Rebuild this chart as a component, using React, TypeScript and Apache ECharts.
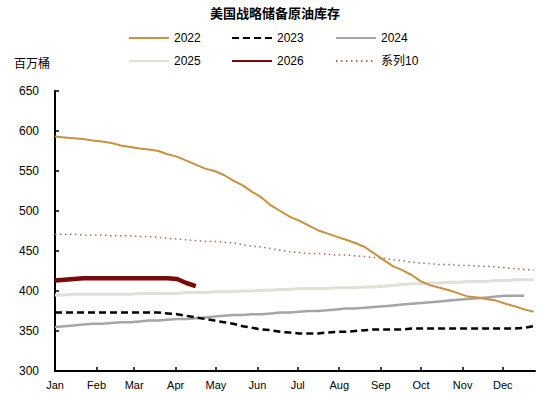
import React, { useEffect, useRef } from "react";
import * as echarts from "echarts";

const days = [0,7,14,21,28,35,42,49,56,63,70,77,84,91,98,105,112,119,126,133,140,147,154,161,168,175,182,189,196,203,210,217,224,231,238,245,252,259,266,273,280,287,294,301,308,315,322,329,336,343,350,357];

const monthStarts = [0,31,59,90,120,151,181,212,243,273,304,334];
const monthNames = ["Jan","Feb","Mar","Apr","May","Jun","Jul","Aug","Sep","Oct","Nov","Dec"];

const s2022 = [593,592,591,590,588,587,585,582,580,578,577,575,571,568,563,558,553,550,545,538,532,524,517,507,500,493,488,482,476,472,468,464,460,455,447,439,431,426,420,412,407,404,401,397,393,392,390,388,384,381,377,374];
const s2023 = [373,373,373,373,373,373,373,373,373,373,373,373,372,371,369,367,365,363,361,359,356,354,352,351,349,348,347,347,347,348,349,349,350,351,352,352,352,352,353,353,353,353,353,353,353,353,353,353,353,353,354,356];
const s2024 = [355,356,357,358,359,359,360,361,361,362,363,363,364,365,365,366,367,368,369,370,370,371,371,372,373,373,374,375,375,376,377,378,378,379,380,381,382,383,384,385,386,387,388,389,390,391,392,393,394,394,394,null];
const s2025 = [395,395,396,396,396,396,396,396,396,397,397,397,397,397,398,398,398,399,399,399,400,400,401,401,402,402,403,403,403,403,404,404,404,405,405,406,407,408,409,409,410,410,411,411,412,412,412,413,413,414,414,414];
const s2026 = [413,414,415,416,416,416,416,416,416,416,416,416,416,415,410,406];
const s10 = [471,471,471,470,470,470,469,469,469,468,468,467,466,465,464,463,462,462,461,460,458,456,455,453,451,449,448,447,447,446,445,445,444,443,442,441,439,438,436,435,434,433,433,432,432,431,431,430,429,428,427,426];

const seriesNames = ["2022", "2023", "2024", "2025", "2026", "系列10"];

const toData = (vals: (number | null)[]) =>
  vals.map((v, i) => [days[i], v]).filter((p) => p[1] !== null);

const FONT = "'Liberation Sans', 'Noto Sans CJK SC', sans-serif";

export default function App() {
  const ref = useRef<HTMLDivElement>(null);
  useEffect(() => {
    if (!ref.current) return;
    const chart = echarts.init(ref.current, null, { renderer: "svg" });
    const legendPos = [
      { left: 128, top: 32 },
      { left: 231, top: 32 },
      { left: 335, top: 32 },
      { left: 128, top: 55 },
      { left: 231, top: 55 },
      { left: 335, top: 55 },
    ];
    const styles = [
      { color: "#C8903F", width: 2, type: "solid" },
      { color: "#000000", width: 2.5, type: [7, 4] },
      { color: "#A5A5A5", width: 2.5, type: "solid" },
      { color: "#E2E0D6", width: 3, type: "solid" },
      { color: "#7A0A0A", width: 4.5, type: "solid" },
      { color: "#A36F55", width: 1.5, type: [1.5, 3.5] },
    ];
    const vals = [s2022, s2023, s2024, s2025, s2026, s10];
    const order = [5, 3, 2, 1, 0, 4];
    chart.setOption({
      animation: false,
      title: {
        text: "美国战略储备原油库存",
        left: "center",
        top: 1,
        textStyle: { fontSize: 13, fontWeight: "bold", color: "#000", fontFamily: "'Noto Sans CJK SC', sans-serif" },
      },
      legend: seriesNames.map((n, i) => ({
        data: [n],
        left: legendPos[i].left,
        top: legendPos[i].top,
        padding: 0,
        itemWidth: 40,
        itemHeight: 14,
        itemStyle: { opacity: 0 },
        textStyle: { fontSize: 12, color: "#000", fontFamily: FONT },
      })),
      graphic: [
        {
          type: "text",
          x: 14,
          y: 62,
          style: { text: "百万桶", fontSize: 12, fill: "#000", verticalAlign: "middle", fontFamily: "'Noto Sans CJK SC', sans-serif" },
        },
      ],
      grid: { left: 55, right: 15, top: 91, bottom: 22 },
      xAxis: {
        type: "value",
        min: 0,
        max: 358,
        axisLine: { lineStyle: { color: "#000", width: 2 } },
        axisTick: { inside: true, length: 4, customValues: monthStarts, lineStyle: { color: "#000", width: 1.5 } },
        axisLabel: {
          customValues: monthStarts,
          formatter: (v: number) => monthNames[monthStarts.indexOf(v)] ?? "",
          color: "#000",
          fontSize: 11,
          margin: 8,
          fontFamily: FONT,
        },
        splitLine: { show: false },
      },
      yAxis: {
        type: "value",
        min: 300,
        max: 650,
        interval: 50,
        axisLine: { show: true, lineStyle: { color: "#000", width: 2 } },
        axisTick: { show: true, inside: true, length: 4, lineStyle: { color: "#000", width: 1.5 } },
        axisLabel: { color: "#000", fontSize: 12, margin: 16, fontFamily: FONT },
        splitLine: { show: false },
      },
      series: order.map((i) => ({
        name: seriesNames[i],
        type: "line",
        symbol: "none",
        showSymbol: false,
        data: toData(vals[i]),
        lineStyle: { color: styles[i].color, width: styles[i].width, type: styles[i].type },
        itemStyle: { color: styles[i].color },
        z: 2 + order.indexOf(i),
      })),
    });
    return () => chart.dispose();
  }, []);
  return <div ref={ref} style={{ width: 550, height: 393, position: "absolute", left: 0, top: 0 }} />;
}
